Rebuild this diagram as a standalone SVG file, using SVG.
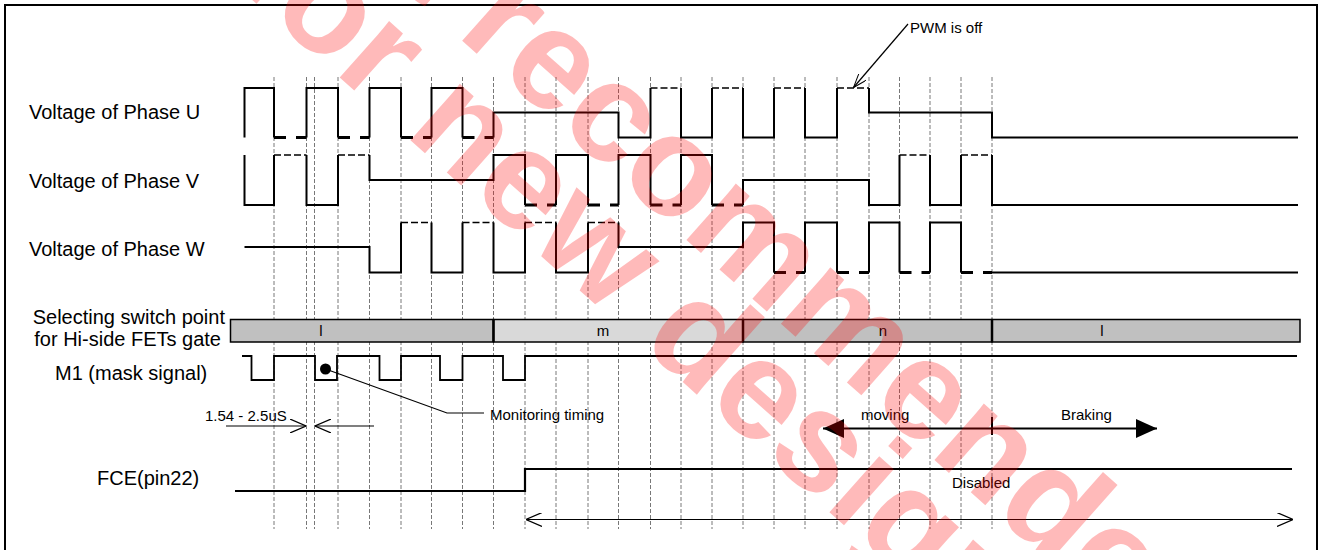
<svg xmlns="http://www.w3.org/2000/svg" width="1322" height="550" viewBox="0 0 1322 550">
<style>
.grid{stroke:#555;stroke-width:0.8;stroke-dasharray:4 2;fill:none}
.sig{stroke:#000;stroke-width:2;fill:none;stroke-linejoin:miter}
.dl{stroke:#000;stroke-width:3;stroke-dasharray:12 10;fill:none}
.dh{stroke:#000;stroke-width:1.3;stroke-dasharray:7 3;fill:none}
.thin{stroke:#000;stroke-width:1.2;fill:none}
.lbl{font-family:"Liberation Sans",Arial,sans-serif;font-size:20px;fill:#000}
.sm{font-family:"Liberation Sans",Arial,sans-serif;font-size:15px;fill:#000}
.wm{font-family:"Liberation Sans",Arial,sans-serif;font-size:142px;font-weight:bold;fill:#f00;fill-opacity:0.27}
</style>
<defs>
<marker id="open" viewBox="0 0 16 14" refX="16" refY="7" markerWidth="16" markerHeight="14" markerUnits="userSpaceOnUse" orient="auto-start-reverse">
<path d="M0,0 L16,7 L0,14" fill="none" stroke="#000" stroke-width="1.2"/>
</marker>
<marker id="solid" viewBox="0 0 21 19" refX="21" refY="9.5" markerWidth="21" markerHeight="19" markerUnits="userSpaceOnUse" orient="auto-start-reverse">
<path d="M0,0 L21,9.5 L0,19 Z" fill="#000"/>
</marker>
<marker id="pwm" viewBox="0 0 14 10" refX="14" refY="5" markerWidth="14" markerHeight="10" markerUnits="userSpaceOnUse" orient="auto">
<path d="M0,0 L14,5 L0,10" fill="none" stroke="#000" stroke-width="1"/>
</marker>
</defs>
<rect x="5" y="5" width="1312" height="550" fill="#fff" stroke="#000" stroke-width="2"/>

<g id="grid">
<path class="grid" d="M274,77V529M306.5,77V529M314.5,77V529M338,77V529M369.5,77V529M401,77V529M431.5,77V529M462.5,77V529M493.5,77V529M525,77V529M556,77V529M588,77V529M618.5,77V529M650.5,77V529M681,77V529M712,77V529M743,77V529M774,77V529M805,77V529M837,77V529M869,77V529M899.5,77V529M930,77V529M961,77V529M992,77V529"/>
</g>

<g id="labels">
<text class="lbl" x="29" y="119">Voltage of Phase U</text>
<text class="lbl" x="29" y="188">Voltage of Phase V</text>
<text class="lbl" x="29" y="256">Voltage of Phase W</text>
<text class="lbl" x="225" y="323.5" text-anchor="end">Selecting switch point</text>
<text class="lbl" x="221" y="346" text-anchor="end">for Hi-side FETs gate</text>
<text class="lbl" x="55" y="380">M1 (mask signal)</text>
<text class="lbl" x="97" y="485">FCE(pin22)</text>
</g>

<g id="phaseU">
<path class="sig" d="M244.5,137.5V88H274V137.5M306.5,137.5V88H338V137.5M369.5,137.5V88H401V137.5M431.5,137.5V88H462.5V137.5M493.5,137.5V112.5H618.5V137.5H650.5V88M681,88V137.5H712V88M743,88V137.5H774V88M805,88V137.5H837V88M869,88V112.5H992V137.5H1298"/>
<path class="dl" d="M274,137.5H306.5M338,137.5H369.5M401,137.5H431.5M462.5,137.5H493.5"/>
<path class="dh" d="M650.5,88H681M712,88H743M774,88H805M837,88H869"/>
</g>

<g id="phaseV">
<path class="sig" d="M244.5,155V205H274V155M306.5,155V205H338V155M369.5,155V180H493.5V155H525V205M556,205V155H588V205M618.5,205V155H650.5V205M681,205V155H712V205M743,205V180H869V205H899.5V155M930,155V205H961V155M992,155V205H1298"/>
<path class="dh" d="M274,155H306.5M338,155H369.5M899.5,155H930M961,155H992"/>
<path class="dl" d="M525,205H556M588,205H618.5M650.5,205H681M712,205H743"/>
</g>

<g id="phaseW">
<path class="sig" d="M244.5,247H369.5V272.5H401V222.5M431.5,222.5V272.5H462.5V222.5M493.5,222.5V272.5H525V222.5M556,222.5V272.5H588V222.5M618.5,222.5V247H743V222.5H774V272.5M805,272.5V222.5H837V272.5M869,272.5V222.5H899.5V272.5M930,272.5V222.5H961V272.5M992,272.5H1298"/>
<path class="dh" d="M401,222.5H431.5M462.5,222.5H493.5M525,222.5H556M588,222.5H618.5"/>
<path class="dl" d="M774,272.5H805M837,272.5H869M899.5,272.5H930M961,272.5H992"/>
</g>

<g id="switchBar">
<rect x="230.5" y="319.5" width="263" height="22.5" fill="#c0c0c0" stroke="#000" stroke-width="1.5"/>
<rect x="493.5" y="319.5" width="249.5" height="22.5" fill="#d9d9d9" stroke="#000" stroke-width="1.5"/>
<rect x="743" y="319.5" width="249" height="22.5" fill="#c0c0c0" stroke="#000" stroke-width="1.5"/>
<rect x="992" y="319.5" width="308" height="22.5" fill="#c0c0c0" stroke="#000" stroke-width="1.5"/>
<path d="M493.5,319.5V342M743,319.5V342M992,319.5V342" stroke="#000" stroke-width="2.5"/>
<text class="sm" x="321" y="336" text-anchor="middle">l</text>
<text class="sm" x="603" y="336" text-anchor="middle">m</text>
<text class="sm" x="883" y="336" text-anchor="middle">n</text>
<text class="sm" x="1102" y="336" text-anchor="middle">l</text>
</g>

<g id="m1">
<path class="sig" style="stroke-width:1.8" d="M242,356H251.5V380H274V356H315V380H337V356H379.5V380H401V356H440V380H462.5V356H503V380H525V356H1297"/>
</g>

<g id="monitoring">
<circle cx="325.5" cy="369" r="5.5" fill="#000"/>
<text class="sm" x="490" y="420">Monitoring timing</text>
</g>

<g id="fce">
<path class="sig" style="stroke-width:2.2" d="M235,491H525V469H1292"/>
<text class="sm" x="952" y="488">Disabled</text>
</g>

<g id="notes">
<text class="sm" x="910" y="33">PWM is off</text>
<text class="sm" x="205" y="420.5">1.54 - 2.5uS</text>
<text class="sm" x="861" y="420">moving</text>
<text class="sm" x="1061" y="420">Braking</text>
</g>

<g id="connectors">
<path class="thin" d="M908,24L853.5,87.5" marker-end="url(#pwm)"/>
<path class="thin" d="M325.5,369L447,413H484"/>
<path class="thin" d="M226,426H306" marker-end="url(#open)"/>
<path class="thin" d="M374,426H315" marker-end="url(#open)"/>
<path d="M992,428.5H823" stroke="#000" stroke-width="2" marker-end="url(#solid)"/>
<path d="M992,428.5H1157" stroke="#000" stroke-width="2" marker-end="url(#solid)"/>
<path d="M992,417V435" stroke="#000" stroke-width="2"/>
<path class="thin" d="M526,519.5H1293" marker-start="url(#open)" marker-end="url(#open)"/>
</g>

<g id="watermark" transform="translate(248.4,-149) rotate(41.6)">
<text class="wm" x="0" y="0">Not recommended</text>
<text class="wm" x="74.6" y="108.8">for new design</text>
</g>
</svg>
